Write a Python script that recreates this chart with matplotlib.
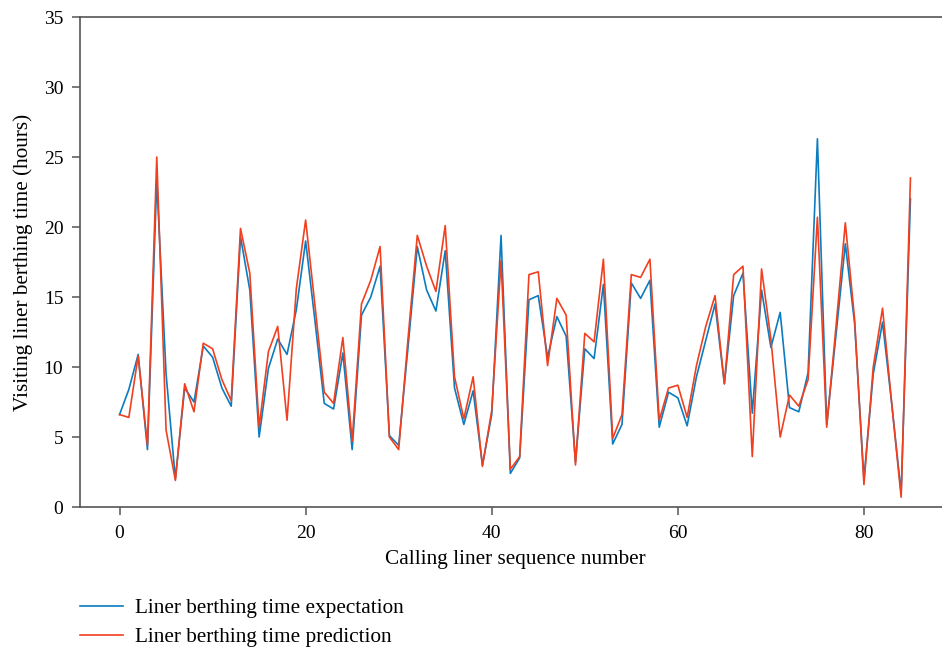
import matplotlib
matplotlib.use("Agg")
import matplotlib.pyplot as plt
import numpy as np

# liner berthing times (hours)
seq = np.arange(86)
expectation = [
    6.6, 8.4, 10.9, 4.1, 23.3, 9.5, 2.0, 8.5, 7.5, 11.5,
    10.7, 8.5, 7.2, 19.3, 15.5, 5.0, 9.9, 12.0, 10.9, 14.1,
    19.0, 13.3, 7.4, 7.0, 11.0, 4.1, 13.7, 15.0, 17.2, 5.1,
    4.4, 11.4, 18.6, 15.5, 14.0, 18.3, 8.5, 5.9, 8.3, 3.0,
    6.6, 19.4, 2.4, 3.5, 14.8, 15.1, 10.7, 13.6, 12.2, 3.2,
    11.3, 10.6, 15.9, 4.5, 5.9, 16.0, 14.9, 16.2, 5.7, 8.2,
    7.8, 5.8, 9.3, 11.9, 14.5, 8.8, 15.1, 16.7, 6.7, 15.5,
    11.4, 13.9, 7.1, 6.8, 9.6, 26.3, 5.9, 12.3, 18.8, 13.1,
    2.0, 9.5, 13.2, 7.3, 1.0, 22.0,
]
prediction = [
    6.6, 6.4, 10.8, 4.4, 25.0, 5.5, 1.9, 8.8, 6.8, 11.7,
    11.3, 9.1, 7.6, 19.9, 16.7, 5.7, 11.1, 12.9, 6.2, 15.6,
    20.5, 14.4, 8.2, 7.4, 12.1, 4.7, 14.5, 16.2, 18.6, 5.0,
    4.1, 12.0, 19.4, 17.2, 15.4, 20.1, 9.3, 6.3, 9.3, 2.9,
    6.9, 17.6, 2.7, 3.6, 16.6, 16.8, 10.1, 14.9, 13.7, 3.0,
    12.4, 11.8, 17.7, 4.9, 6.6, 16.6, 16.4, 17.7, 6.2, 8.5,
    8.7, 6.4, 10.1, 12.9, 15.1, 8.8, 16.6, 17.2, 3.6, 17.0,
    12.0, 5.0, 8.0, 7.2, 9.1, 20.7, 5.7, 12.9, 20.3, 13.4,
    1.6, 10.0, 14.2, 7.3, 0.7, 23.5,
]
yticks = [0, 5, 10, 15, 20, 25, 30, 35]
xticks = [0, 20, 40, 60, 80]

plt.rcParams["font.family"] = ["Liberation Serif", "DejaVu Serif"]
plt.rcParams["font.size"] = 14

fig = plt.figure(figsize=(9.42, 6.5), dpi=100)
# axes runs a little past the right edge, as in the reference
ax = fig.add_axes([80 / 942, 1 - 507 / 650, 870 / 942, 490 / 650])

ax.plot(seq, expectation, color="#0b7cc0", lw=1.2,
        label="Liner berthing time expectation")
ax.plot(seq, prediction, color="#f0401f", lw=1.2,
        label="Liner berthing time prediction")

ax.set_xlim(-4.25, 89.25)
ax.set_ylim(0, 35)
ax.set_xticks(xticks)
ax.set_yticks(yticks)
ax.set_xlabel("Calling liner sequence number", fontsize=15.3, labelpad=6)
ax.set_ylabel("Visiting liner berthing time (hours)", fontsize=15.3,
              labelpad=8)

for side in ("top", "left", "bottom", "right"):
    ax.spines[side].set_color("#555555")
    ax.spines[side].set_linewidth(1.2)
ax.tick_params(direction="out", length=6, width=1.1, color="#555555",
               labelsize=14)
ax.tick_params(axis="x", pad=7)
ax.tick_params(axis="y", pad=6)

fig.legend(loc="upper left", bbox_to_anchor=(61 / 942, 1 - 579 / 650),
           frameon=False, fontsize=15.3, handlelength=2.0, handletextpad=0.6,
           labelspacing=0.45)

fig.savefig("out.png", dpi=100)
